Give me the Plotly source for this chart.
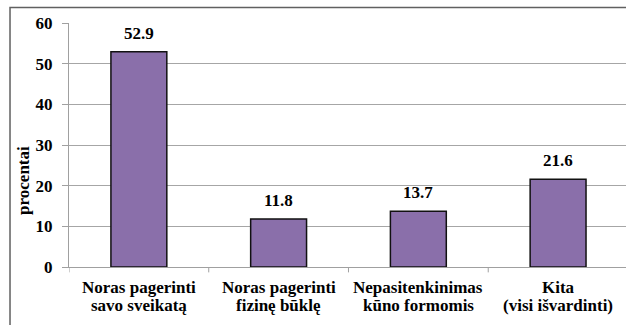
import plotly.graph_objects as go

cat_line1 = ["Noras pagerinti", "Noras pagerinti", "Nepasitenkinimas", "Kita"]
cat_line2 = ["savo sveikatą", "fizinę būklę", "kūno formomis", "(visi išvardinti)"]
values = [52.9, 11.8, 13.7, 21.6]
y_ticks = [0, 10, 20, 30, 40, 50, 60]

FONT = "Liberation Serif"
BLACK = "#000000"
AXIS_GRAY = "#A0A0A0"

xs = list(range(len(values)))

fig = go.Figure(
    go.Bar(
        x=xs,
        y=values,
        width=0.4,
        marker=dict(color="#8A6FAA", line=dict(color="#111111", width=1.5)),
        cliponaxis=False,
        hoverinfo="skip",
    )
)

# value labels above each bar
for x, v in zip(xs, values):
    fig.add_annotation(
        x=x, y=v, xref="x", yref="y",
        text=f"<b>{v:.1f}</b>",
        showarrow=False, yanchor="bottom", yshift=7,
        font=dict(family=FONT, size=17, color=BLACK),
    )

# two-line category labels under the axis
for x, l1, l2 in zip(xs, cat_line1, cat_line2):
    fig.add_annotation(
        x=x, y=-0.082, xref="x", yref="paper",
        text=f"<b>{l1}</b>", showarrow=False,
        xanchor="center", yanchor="middle",
        font=dict(family=FONT, size=17, color=BLACK),
    )
    fig.add_annotation(
        x=x, y=-0.156, xref="x", yref="paper",
        text=f"<b>{l2}</b>", showarrow=False,
        xanchor="center", yanchor="middle",
        font=dict(family=FONT, size=17, color=BLACK),
    )

fig.update_layout(
    width=626,
    height=325,
    margin=dict(l=69, r=0, t=23, b=58),
    plot_bgcolor="white",
    paper_bgcolor="white",
    showlegend=False,
    font=dict(family=FONT, color=BLACK),
    xaxis=dict(
        range=[-0.5, 3.486],
        showticklabels=False,
        showgrid=False,
        showline=True,
        linecolor=AXIS_GRAY,
        linewidth=1,
        ticks="",
        zeroline=False,
    ),
    yaxis=dict(
        range=[0, 60],
        tickvals=y_ticks,
        ticktext=[f"<b>{t}</b>" for t in y_ticks],
        tickfont=dict(family=FONT, size=17, color=BLACK),
        showgrid=True,
        gridcolor="#A6A6A6",
        gridwidth=1,
        showline=True,
        linecolor=AXIS_GRAY,
        linewidth=1,
        ticks="outside",
        ticklen=6,
        tickcolor=AXIS_GRAY,
        ticklabelstandoff=6,
        zeroline=False,
    ),
)

# category separator ticks on the x axis
for b in [-0.5, 0.5, 1.5, 2.5]:
    fig.add_shape(
        type="line", xref="x", yref="paper",
        x0=b, x1=b, y0=0, y1=-0.022,
        line=dict(color=AXIS_GRAY, width=1),
    )

# outer chart border
fig.add_shape(
    type="rect", xref="paper", yref="paper",
    x0=-0.1059, x1=1.2, y0=-0.5, y1=1.0635,
    line=dict(color="#606060", width=1.5),
    layer="below",
)

# rotated y axis title
fig.add_annotation(
    text="<b>procentai</b>",
    xref="paper", yref="paper",
    x=-0.0808, y=0.357,
    xanchor="center", yanchor="middle",
    textangle=-90,
    showarrow=False,
    font=dict(family=FONT, size=17, color=BLACK),
)

fig.write_html("out.html")
